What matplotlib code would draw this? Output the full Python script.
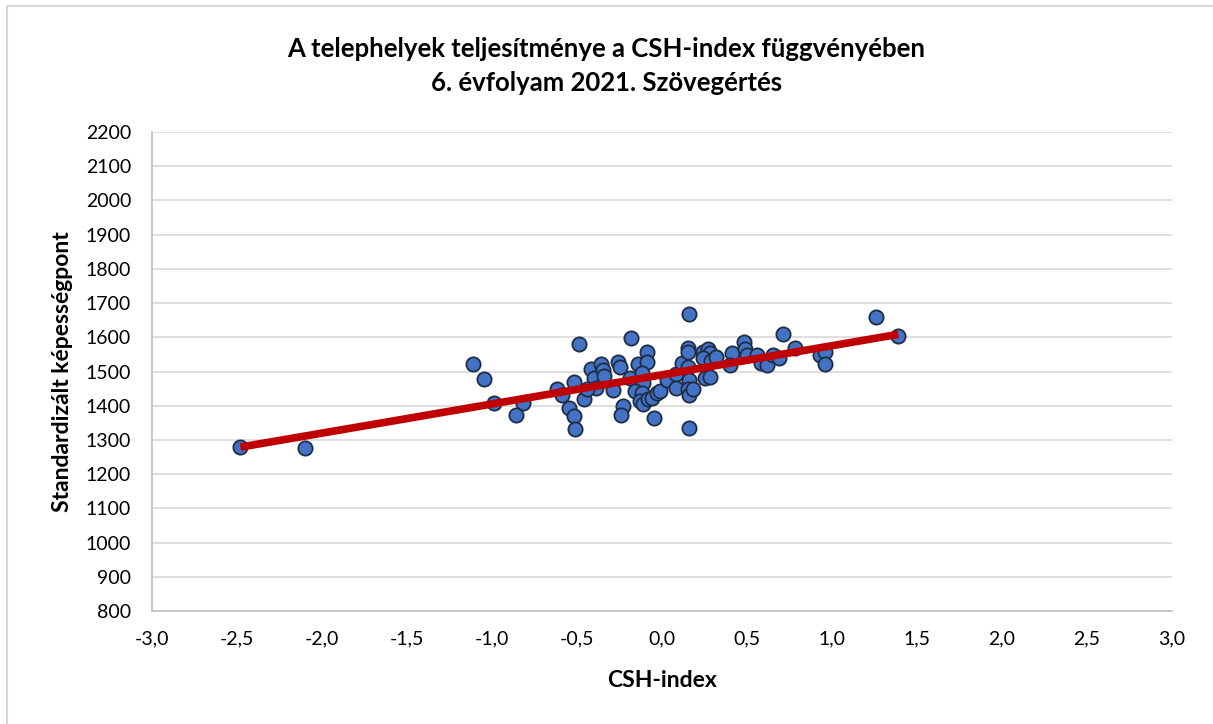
import numpy as np
import matplotlib
matplotlib.use("Agg")
import matplotlib.pyplot as plt
from matplotlib.lines import Line2D
from matplotlib.ticker import FuncFormatter

plt.rcParams['font.family'] = ['Lato', 'DejaVu Sans']

# CSH-index of each site and its standardized ability score
csh_index = [
    -2.48, -2.10, -1.11, -1.05, -0.99, -0.82, -0.86, -0.62, -0.59, -0.52,
    -0.55, -0.52, -0.51, -0.46, -0.49, -0.42, -0.40, -0.36, -0.35, -0.34,
    -0.39, -0.44, -0.29, -0.26, -0.25, -0.18, -0.19, -0.23, -0.24, -0.14,
    -0.09, -0.09, -0.12, -0.11, -0.16, -0.12, -0.13, -0.11, -0.08, -0.06,
    -0.03, -0.01, -0.05, 0.03, 0.08, 0.08, 0.12, 0.16, 0.15, 0.15,
    0.15, 0.16, 0.15, 0.16, 0.18, 0.16, 0.24, 0.27, 0.28, 0.24,
    0.29, 0.32, 0.25, 0.28, 0.41, 0.40, 0.48, 0.49, 0.50, 0.56,
    0.58, 0.62, 0.65, 0.69, 0.71, 0.78, 0.93, 0.96, 0.96, 1.26,
    1.39,
]
score = [
    1279, 1276, 1523, 1477, 1409, 1409, 1374, 1450, 1430, 1468,
    1392, 1371, 1333, 1421, 1579, 1506, 1482, 1523, 1503, 1488,
    1453, 1450, 1447, 1529, 1512, 1597, 1480, 1398, 1374, 1523,
    1556, 1529, 1497, 1465, 1444, 1436, 1415, 1406, 1421, 1424,
    1436, 1444, 1365, 1474, 1494, 1453, 1526, 1667, 1570, 1556,
    1512, 1474, 1450, 1430, 1450, 1336, 1556, 1567, 1553, 1538,
    1532, 1541, 1480, 1483, 1553, 1518, 1585, 1567, 1547, 1547,
    1526, 1518, 1547, 1538, 1611, 1570, 1547, 1556, 1523, 1658,
    1605,
]

title = "A telephelyek teljesítménye a CSH-index függvényében\n6. évfolyam 2021. Szövegértés"
x_label = "CSH-index"
y_label = "Standardizált képességpont"
x_ticks = np.arange(-3.0, 3.01, 0.5)
y_ticks = np.arange(800, 2201, 100)

x = np.array(csh_index)
y = np.array(score)

fig = plt.figure(figsize=(12.13, 7.24), dpi=100)
ax = fig.add_axes([152 / 1213, 1 - 611 / 724, (1172 - 152) / 1213, (611 - 132) / 724])

ax.set_xlim(-3.0, 3.0)
ax.set_ylim(800, 2200)
ax.set_xticks(x_ticks)
ax.set_yticks(y_ticks)
ax.xaxis.set_major_formatter(FuncFormatter(lambda v, p: f"{v:.1f}".replace(".", ",")))
ax.tick_params(length=0, labelsize=14, colors="#000000")
ax.tick_params(axis="x", pad=14)
ax.tick_params(axis="y", pad=15)

ax.grid(axis="y", color="#d9d9d9", linewidth=1.2)
ax.set_axisbelow(True)
for side in ("top", "right"):
    ax.spines[side].set_visible(False)
for side in ("left", "bottom"):
    ax.spines[side].set_color("#bfbfbf")
    ax.spines[side].set_linewidth(1.2)

ax.scatter(x, y, s=105, color="#4472c4", edgecolors="#1f2d44", linewidths=1.3, zorder=3)

# linear trend line across the observed CSH range
slope, intercept = np.polyfit(x, y, 1)
xs = np.array([x.min(), x.max()])
ax.plot(xs, slope * xs + intercept, color="#c00000", linewidth=5.5, solid_capstyle="butt", zorder=4)

ax.set_xlabel(x_label, fontsize=16.5, fontweight="bold", labelpad=16)
ax.set_ylabel(y_label, fontsize=16.5, fontweight="bold", labelpad=9)
fig.text(0.5, 1 - 66 / 724, title, ha="center", va="center", fontsize=18.5,
         fontweight="bold", linespacing=1.5)

# chart frame
fig.add_artist(Line2D([7 / 1213, 7 / 1213], [0, 1 - 6 / 724], transform=fig.transFigure,
                      color="#d9d9d9", linewidth=1.5))
fig.add_artist(Line2D([7 / 1213, 1], [1 - 6 / 724, 1 - 6 / 724], transform=fig.transFigure,
                      color="#d9d9d9", linewidth=1.5))

fig.savefig("out.png", dpi=100, facecolor="white")
